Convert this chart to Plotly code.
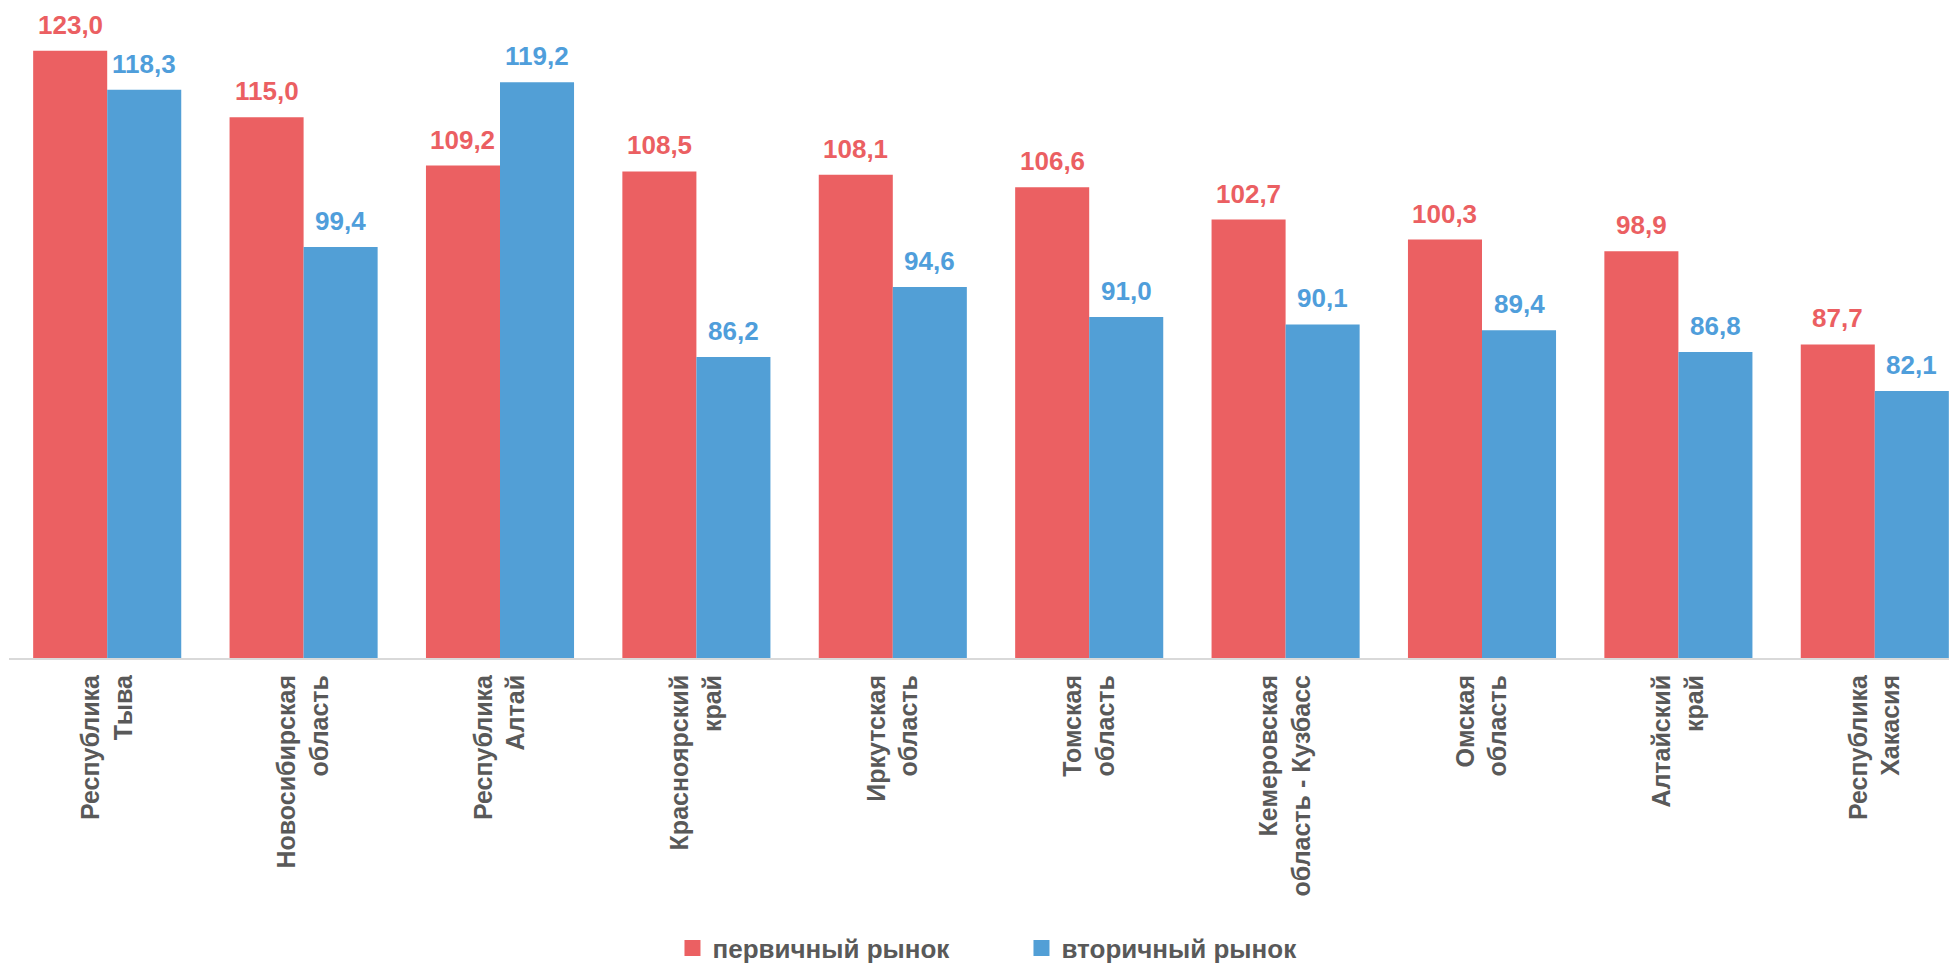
import plotly.graph_objects as go

regions = [
    "Республика<br>Тыва",
    "Новосибирская<br>область",
    "Республика<br>Алтай",
    "Красноярский<br>край",
    "Иркутская<br>область",
    "Томская<br>область",
    "Кемеровская<br>область - Кузбасс",
    "Омская<br>область",
    "Алтайский<br>край",
    "Республика<br>Хакасия",
]
primary = [123.0, 115.0, 109.2, 108.5, 108.1, 106.6, 102.7, 100.3, 98.9, 87.7]
secondary = [118.3, 99.4, 119.2, 86.2, 94.6, 91.0, 90.1, 89.4, 86.8, 82.1]
series_names = ["первичный рынок", "вторичный рынок"]

RED = "#EB6062"
BLUE = "#529FD6"
RED_TXT = "#EB5F62"
BLUE_TXT = "#4F9EDB"
FONT = "Liberation Sans"

xs = list(range(len(regions)))
w = 0.377
pitch_px = 196.4
plot_w = 1940

fig = go.Figure()
fig.add_trace(go.Bar(x=xs, y=primary, name=series_names[0], marker=dict(color=RED, line=dict(width=0)),
                     width=w, offset=-w, hoverinfo="y", showlegend=False))
fig.add_trace(go.Bar(x=xs, y=secondary, name=series_names[1], marker=dict(color=BLUE, line=dict(width=0)),
                     width=w, offset=0, hoverinfo="y", showlegend=False))
# legend entries with larger square swatches
fig.add_trace(go.Scatter(x=[None], y=[None], mode="markers", name=series_names[0],
                         marker=dict(symbol="square", size=16, color=RED)))
fig.add_trace(go.Scatter(x=[None], y=[None], mode="markers", name=series_names[1],
                         marker=dict(symbol="square", size=16, color=BLUE)))

def fmt(v):
    return f"{v:.1f}".replace(".", ",")

annotations = []
for i, (p, s) in enumerate(zip(primary, secondary)):
    annotations.append(dict(x=i - w / 2, y=p, text=fmt(p), showarrow=False, yanchor="bottom",
                            yshift=9, font=dict(family=FONT, size=26, color=RED_TXT, weight="bold")))
    annotations.append(dict(x=i + w / 2, y=s, text=fmt(s), showarrow=False, yanchor="bottom",
                            yshift=9, font=dict(family=FONT, size=26, color=BLUE_TXT, weight="bold")))

fig.update_layout(
    width=1949, height=963,
    margin=dict(l=9, r=0, t=10, b=305, autoexpand=False),
    plot_bgcolor="white", paper_bgcolor="white",
    barmode="overlay",
    showlegend=True,
    legend=dict(orientation="h", x=0.342, xanchor="left", yref="container", y=0.0156, yanchor="middle",
                font=dict(family=FONT, size=26, color="#595959", weight="bold"),
                itemsizing="trace",
                entrywidth=304, entrywidthmode="pixels"),
    annotations=annotations,
    xaxis=dict(range=[-0.5, -0.5 + plot_w / pitch_px], tickvals=xs, ticktext=regions, tickangle=-90,
               showgrid=False, zeroline=False, showline=True, linecolor="#D9D9D9", linewidth=2,
               ticks="", ticklabelstandoff=5, automargin=False,
               tickfont=dict(family=FONT, size=25, color="#595959", weight="bold")),
    yaxis=dict(range=[50, 127.9], showgrid=False, zeroline=False, showline=False, showticklabels=False),
)

fig.write_html("out.html", config={"displayModeBar": False},
               post_script="document.body.style.margin='0px';")
